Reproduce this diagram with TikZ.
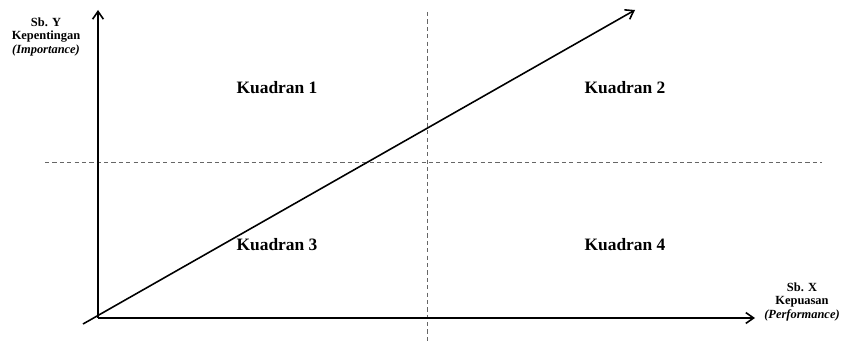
\documentclass[tikz,border=0pt]{standalone}
\usepackage{fontspec}
\setmainfont{Liberation Serif}
\usetikzlibrary{arrows.meta}

\tikzset{
    axis/.style={line width=1.5pt, -{Straight Barb[length=2.6mm, width=3.6mm, line width=1.5pt]}},
    divider/.style={gray!80!black, line width=0.6pt, dash pattern=on 4pt off 3pt},
    quadlabel/.style={font=\bfseries\fontsize{16.5}{19}\selectfont},
    axislabel/.style={font=\bfseries\fontsize{11.8}{12.5}\selectfont, align=center}
}

\begin{document}
\begin{tikzpicture}[x=0.03333cm, y=-0.03333cm]
        \useasboundingbox (0,0) rectangle (841,343);

        % Axis points
        \coordinate (origin) at (98,318);
        \coordinate (ytop) at (98,10);
        \coordinate (xend) at (755,318);
        \coordinate (diagstart) at (83,324);
        \coordinate (diagend) at (635,10);

        % Dashed dividers
        \coordinate (hleft) at (45,162);
        \coordinate (hright) at (822,162);
        \coordinate (vtop) at (427,12);
        \coordinate (vbottom) at (427,343);
        \draw[divider] (hleft) -- (hright);
        \draw[divider] (vtop) -- (vbottom);

        % Axes
        \draw[axis] (origin) -- (ytop);
        \draw[axis] (origin) -- (xend);

        % Diagonal
        \draw[axis] (diagstart) -- (diagend);

        % Axis labels
        \node[axislabel] (ylabel) at (46,37) {Sb. Y\\Kepentingan\\\textit{(Importance)}};
        \node[axislabel] (xlabel) at (802,302) {Sb. X\\Kepuasan\\\textit{(Performance)}};

        % Quadrants
        \node[quadlabel] (q1) at (277,88) {Kuadran 1};
        \node[quadlabel] (q2) at (625,88) {Kuadran 2};
        \node[quadlabel] (q3) at (277,245) {Kuadran 3};
        \node[quadlabel] (q4) at (625,245) {Kuadran 4};
\end{tikzpicture}
\end{document}
